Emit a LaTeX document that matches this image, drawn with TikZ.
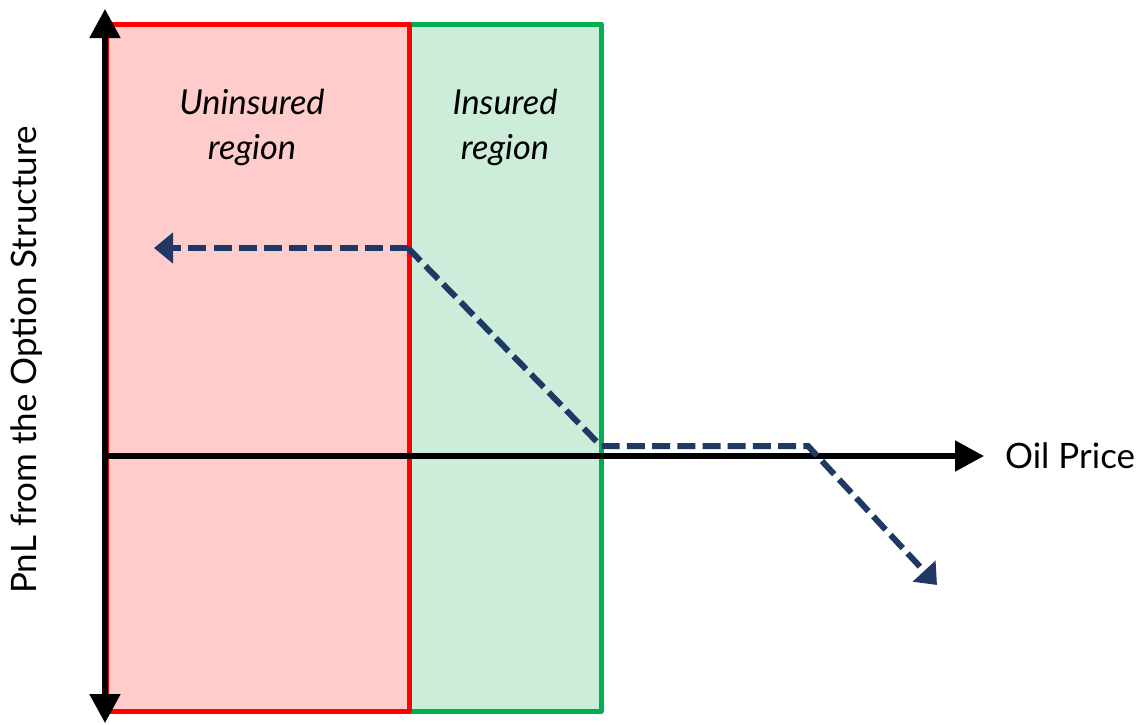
\documentclass[tikz,border=0pt]{standalone}
\usepackage{fontspec}
\setmainfont{Lato}
\usetikzlibrary{arrows.meta}
\definecolor{redline}{RGB}{255,0,0}
\definecolor{redfill}{RGB}{255,204,204}
\definecolor{greenline}{RGB}{0,176,80}
\definecolor{greenfill}{RGB}{204,237,218}
\definecolor{navy}{RGB}{31,56,100}
\tikzset{
  regionbox/.style={line width=2.5pt, line join=round},
  axisline/.style={line width=2.6pt, -{Triangle[length=14.5pt,width=15pt]}},
  payoff/.style={navy, line width=3pt, dash pattern=on 9pt off 3.6pt, line join=miter, -{Triangle[length=9.5pt,width=15pt]}},
  lbl/.style={font=\fontsize{17.2}{22.5}\selectfont\itshape, align=center},
  axlbl/.style={font=\fontsize{17.5}{20}\selectfont}
}
\begin{document}
\begin{tikzpicture}[x=0.5pt,y=-0.5pt]
\useasboundingbox (0,0) rectangle (1142,724);
% regions
\draw[regionbox, draw=greenline, fill=greenfill] (409,24) rectangle (601,711);
\draw[regionbox, draw=redline, fill=redfill] (106,24) rectangle (409,711);
% axes
\coordinate (ytop) at (105,9);
\coordinate (ybot) at (105,723);
\coordinate (xorig) at (105,456);
\coordinate (xend) at (984,456);
\draw[axisline] (xorig) -- (ytop);
\draw[axisline] (xorig) -- (ybot);
\draw[axisline] (xorig) -- (xend);
% labels
\node[axlbl, anchor=west] (oil) at (998,456) {Oil Price};
\node[axlbl, rotate=90] (pnl) at (27,360) {PnL from the Option Structure};
\node[lbl] (unins) at (252,127) {Uninsured\\region};
\node[lbl] (ins) at (505,127) {Insured\\region};
% payoff
\coordinate (p1) at (408,248);
\coordinate (p0) at (154,248);
\coordinate (p2) at (601,446);
\coordinate (p3) at (808,446);
\coordinate (p4) at (937,585);
\draw[payoff] (p1) -- (p0);
\draw[payoff] (p1) -- (p2) -- (p3) -- (p4);
\end{tikzpicture}
\end{document}
